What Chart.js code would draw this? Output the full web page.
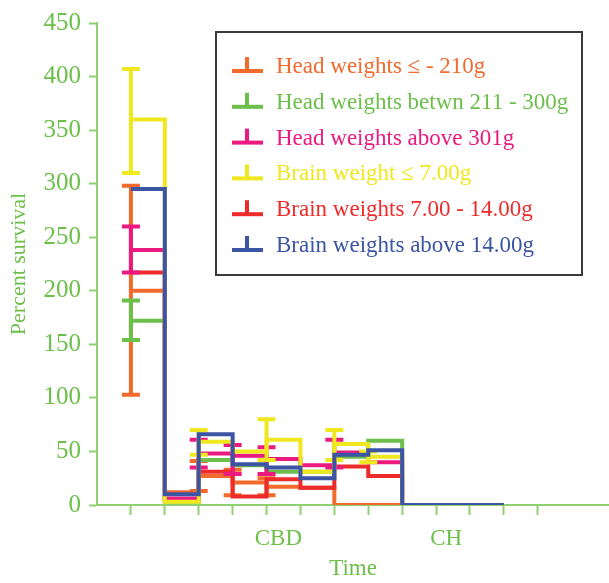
<!DOCTYPE html>
<html>
<head>
<meta charset="utf-8">
<script src="https://cdn.jsdelivr.net/npm/chart.js@4/dist/chart.umd.min.js"></script>
<style>
  html, body { margin: 0; padding: 0; background: #ffffff; }
  #wrap { width: 609px; height: 583px; position: relative; }
</style>
</head>
<body>
<div id="wrap"><canvas id="c"></canvas></div>
<script>
// ---- data ----
const stepTimes = [1, 2, 3, 4, 5, 6, 7, 8, 9, 12];
const seriesNames = [
  "Head weights \u2264 - 210g",
  "Head weights betwn 211 - 300g",
  "Head weights above 301g",
  "Brain weight \u2264 7.00g",
  "Brain weights 7.00 - 14.00g",
  "Brain weights above 14.00g"
];
const headLow   = [200, 12, 27, 21, 17, 16, 0, 0, 0, 0];
const headMid   = [172, 3, 42, 37, 31, 31, 45, 60, 0, 0];
const headHigh  = [238, 6, 48, 46, 43, 37, 49, 40, 0, 0];
const brainLow  = [360, 3, 59, 50, 61, 31, 57, 45, 0, 0];
const brainMid  = [217, 5, 31, 8, 24, 16, 36, 27, 0, 0];
const brainHigh = [295, 10, 66, 38, 35, 25, 47, 51, 0, 0];

// error bars: [time, lower, upper]
const headLowErr   = [[1, 103, 298], [3, 13, 41], [4, 9, 33], [5, 9, 25]];
const headMidErr   = [[1, 154, 191]];
const headHighErr  = [[1, 217, 260], [3, 35, 61], [4, 29, 56], [5, 29, 54], [7, 35, 61]];
const brainLowErr  = [[1, 310, 407], [3, 47, 70], [5, 42, 80], [7, 42, 70], [8, 40, 50]];
const brainMidErr  = [];
const brainHighErr = [];

const xTickValues = [1, 2, 3, 4, 5, 6, 7, 8, 9, 10, 11, 12, 13];
const groupLabels = ["CBD", "CH"];
const groupPositions = [5.35, 10.3];
const yTicks = [0, 50, 100, 150, 200, 250, 300, 350, 400, 450];

// ---- styles ----
const colors = ["#f26a2c", "#6bbf4a", "#ea1a80", "#efe81f", "#ee2b2b", "#3b54a3"];
const orders = [6, 4, 3, 2, 5, 1];
const seriesValues = [headLow, headMid, headHigh, brainLow, brainMid, brainHigh];
const seriesErrors = [headLowErr, headMidErr, headHighErr, brainLowErr, brainMidErr, brainHighErr];
const axisColor = "#8fd070";
const textColor = "#6cc04a";
const serif = "'Liberation Serif', 'DejaVu Serif', serif";

const datasets = seriesValues.map((vals, i) => ({
  label: seriesNames[i],
  data: vals.map((v, k) => ({ x: stepTimes[k], y: v })),
  borderColor: colors[i],
  backgroundColor: colors[i],
  borderWidth: 4,
  stepped: 'before',
  pointRadius: 0,
  fill: false,
  order: orders[i],
  errors: seriesErrors[i]
}));

const errorBarPlugin = {
  id: 'errorBars',
  afterDatasetDraw(chart, args) {
    const ds = chart.data.datasets[args.index];
    const xs = chart.scales.x, ys = chart.scales.y;
    const ctx = chart.ctx;
    ctx.save();
    ctx.strokeStyle = ds.borderColor;
    ctx.lineWidth = 4;
    ctx.lineCap = 'butt';
    (ds.errors || []).forEach(e => {
      const px = xs.getPixelForValue(e[0]);
      const lo = ys.getPixelForValue(e[1]);
      const hi = ys.getPixelForValue(e[2]);
      ctx.beginPath();
      ctx.moveTo(px, lo); ctx.lineTo(px, hi);
      ctx.moveTo(px - 9, lo); ctx.lineTo(px + 9, lo);
      ctx.moveTo(px - 9, hi); ctx.lineTo(px + 9, hi);
      ctx.stroke();
    });
    ctx.restore();
  }
};

const legendBoxPlugin = {
  id: 'legendBox',
  afterDraw(chart) {
    const ctx = chart.ctx;
    const bx = 216, by = 32, bw = 366, bh = 243;
    ctx.save();
    ctx.fillStyle = '#ffffff';
    ctx.fillRect(bx, by, bw, bh);
    ctx.strokeStyle = '#3a3a3a';
    ctx.lineWidth = 2;
    ctx.strokeRect(bx, by, bw, bh);
    ctx.font = "23px " + serif;
    ctx.textBaseline = 'alphabetic';
    ctx.textAlign = 'left';
    chart.data.datasets.forEach((ds, i) => {
      const base = 73 + i * 35.8;
      ctx.fillStyle = ds.borderColor;
      ctx.fillRect(232, base - 4, 31, 4);
      ctx.fillRect(245, base - 16, 4, 14);
      ctx.fillText(ds.label, 276, base);
    });
    ctx.restore();
  }
};

new Chart(document.getElementById('c'), {
  type: 'line',
  data: { datasets },
  options: {
    responsive: true,
    maintainAspectRatio: false,
    animation: false,
    layout: { padding: { top: 17, right: 0, bottom: 0, left: 0 } },
    plugins: { legend: { display: false }, tooltip: { enabled: false } },
    scales: {
      x: {
        type: 'linear',
        min: 0,
        max: 15.1,
        afterBuildTicks(scale) {
          scale.ticks = xTickValues.concat(groupPositions).map(v => ({ value: v }));
        },
        afterFit(scale) { scale.height = 78; },
        ticks: {
          autoSkip: false,
          maxRotation: 0,
          color: textColor,
          padding: 10,
          font: { family: serif, size: 23 },
          callback(value) {
            const k = groupPositions.indexOf(value);
            return k >= 0 ? groupLabels[k] : '';
          }
        },
        grid: {
          drawOnChartArea: false,
          tickLength: 10,
          tickWidth: 2,
          tickColor(ctx) {
            return (ctx.tick && groupPositions.indexOf(ctx.tick.value) >= 0) ? 'rgba(0,0,0,0)' : axisColor;
          }
        },
        border: { color: axisColor, width: 2 },
        title: {
          display: true,
          text: 'Time',
          color: textColor,
          font: { family: serif, size: 23 },
          padding: { top: 0, bottom: 0 }
        }
      },
      y: {
        min: 0,
        max: 450,
        afterBuildTicks(scale) {
          scale.ticks = yTicks.map(v => ({ value: v }));
        },
        afterFit(scale) { scale.width = 97; },
        ticks: {
          color: textColor,
          padding: 8,
          font: { family: serif, size: 25 }
        },
        grid: {
          drawOnChartArea: false,
          tickLength: 8,
          tickWidth: 2,
          tickColor: axisColor
        },
        border: { color: axisColor, width: 2 },
        title: {
          display: true,
          text: 'Percent survival',
          color: textColor,
          font: { family: serif, size: 22 },
          padding: { top: 6, bottom: 0 }
        }
      }
    }
  },
  plugins: [errorBarPlugin, legendBoxPlugin]
});
</script>
</body>
</html>
